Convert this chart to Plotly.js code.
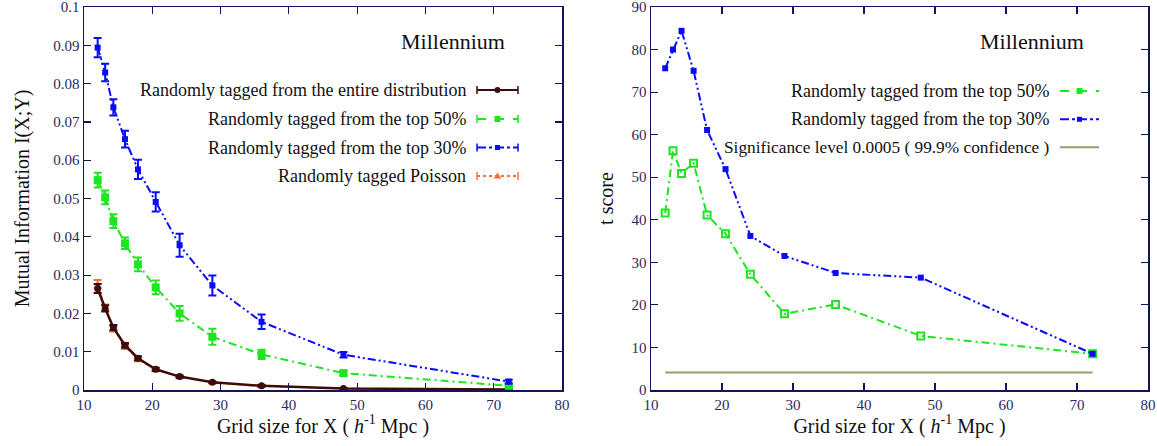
<!DOCTYPE html>
<html>
<head>
<meta charset="utf-8">
<script src="https://cdn.plot.ly/plotly-3.0.1.min.js"></script>
<style>html,body{margin:0;padding:0;background:#fff;}#chart{width:1157px;height:446px;}</style>
</head>
<body>
<div id="chart"></div>
<script>
// ---- data ----
const gridSize = [12, 13.1, 14.3, 16, 17.9, 20.5, 24, 28.8, 36, 48, 72.2];

const miEntire    = [0.0265, 0.0213, 0.0163, 0.0117, 0.0083, 0.0054, 0.0035, 0.0020, 0.0011, 0.0004, 0.0001];
const miEntireErr = [0.0012, 0.0008, 0.0007, 0.0006, 0.0005, 0.0004, 0.0003, 0.0002, 0.0002, 0.0001, 0.0001];
const miTop50     = [0.0548, 0.0503, 0.0441, 0.0383, 0.0328, 0.0268, 0.0200, 0.0139, 0.0093, 0.0044, 0.0011];
const miTop50Err  = [0.0019, 0.0018, 0.0018, 0.0015, 0.0018, 0.0018, 0.0019, 0.0021, 0.0012, 0.0006, 0.0003];
const miTop30     = [0.0894, 0.0829, 0.0738, 0.0655, 0.0576, 0.0491, 0.0378, 0.0273, 0.0178, 0.0092, 0.0022];
const miTop30Err  = [0.0025, 0.0023, 0.0021, 0.0022, 0.0025, 0.0025, 0.0030, 0.0026, 0.0019, 0.0007, 0.0005];
const miPoisson    = [0.0277, 0.0215, 0.0160, 0.0113, 0.0080, 0.0053, 0.0034, 0.0019, 0.0010, 0.0004, 0.0001];
const miPoissonErr = [0.0010, 0.0008, 0.0007, 0.0006, 0.0005, 0.0004, 0.0003, 0.0002, 0.0002, 0.0001, 0.0001];

const tTop50 = [41.6, 56.2, 50.9, 53.3, 41.1, 36.7, 27.2, 17.9, 20.1, 12.7, 8.5];
const tTop30 = [75.6, 80.0, 84.4, 75.0, 61.1, 51.9, 36.2, 31.5, 27.5, 26.4, 8.5];
const sigX = [12, 72.2];
const sigLevel = [4.1, 4.1];

const legendLeft = [
  "Randomly tagged from the entire distribution",
  "Randomly tagged from the top 50%",
  "Randomly tagged from the top 30%",
  "Randomly tagged Poisson"
];
const legendRight = [
  "Randomly tagged from the top 50%",
  "Randomly tagged from the top 30%",
  "Significance level 0.0005 ( 99.9% confidence )"
];
const panelLabel = "Millennium";
const xTitle = "Grid size for X ( <i>h</i><sup>-1</sup> Mpc )";
const yTitleLeft = "Mutual Information I(X;Y)";
const yTitleRight = "t score";

// ---- styles ----
const FONT = "Liberation Serif, Times New Roman, serif";
const cBrown = "#3d0b0b", cGreen = "#1ee61e", cBlue = "#0a0aff", cOrange = "#ff7030", cOlive = "#a09c68";
const cAxis = "#14145a", cTick = "#2a2a5a";
const dashBlue = "8px,3px,2px,3px,2px,3px";
const dashGreen = "8px,4px,2px,4px";

function err(arr, color){ return {type:'data', array:arr, visible:true, color:color, thickness:2, width:4}; }

const traces = [
  {x:gridSize, y:miPoisson, xaxis:'x', yaxis:'y', mode:'lines+markers',
   line:{color:cOrange, width:1.5, dash:'dot'}, marker:{symbol:'triangle-up', size:6, color:cOrange},
   error_y:err(miPoissonErr, cOrange)},
  {x:gridSize, y:miEntire, xaxis:'x', yaxis:'y', mode:'lines+markers',
   line:{color:cBrown, width:2.5}, marker:{symbol:'circle', size:7, color:cBrown},
   error_y:err(miEntireErr, cBrown)},
  {x:gridSize, y:miTop50, xaxis:'x', yaxis:'y', mode:'lines+markers',
   line:{color:cGreen, width:2, dash:dashGreen}, marker:{symbol:'square', size:8, color:cGreen},
   error_y:err(miTop50Err, cGreen)},
  {x:gridSize, y:miTop30, xaxis:'x', yaxis:'y', mode:'lines+markers',
   line:{color:cBlue, width:2, dash:dashBlue}, marker:{symbol:'square', size:6, color:cBlue},
   error_y:err(miTop30Err, cBlue)},
  {x:gridSize, y:tTop50, xaxis:'x2', yaxis:'y2', mode:'lines+markers',
   line:{color:cGreen, width:2, dash:dashGreen}, marker:{symbol:'square-open', size:7, color:cGreen, line:{width:2, color:cGreen}}},
  {x:gridSize, y:tTop30, xaxis:'x2', yaxis:'y2', mode:'lines+markers',
   line:{color:cBlue, width:2, dash:dashBlue}, marker:{symbol:'square', size:6, color:cBlue}},
  {x:sigX, y:sigLevel, xaxis:'x2', yaxis:'y2', mode:'lines',
   line:{color:cOlive, width:2}}
];

const W = 1157, H = 446, T = 7, B = 56;
const px = v => v / W;
const py = v => (H - B - v) / (H - T - B);

function axisCommon(){
  return {showline:true, mirror:'ticks', linecolor:cAxis, linewidth:1.5, ticks:'inside', ticklen:7,
          tickcolor:cAxis, tickwidth:1.2, showgrid:false, zeroline:false, ticklabeloverflow:'allow',
          tickfont:{family:FONT, size:15, color:cTick}};
}
const titleFont = {family:FONT, size:20, color:'#111'};

const xa = Object.assign(axisCommon(), {domain:[px(84), px(562)], range:[10,80], dtick:10, tick0:10, anchor:'y',
  title:{text:xTitle, font:titleFont, standoff:6}});
const ya = Object.assign(axisCommon(), {domain:[0,1], range:[0,0.1], dtick:0.01, anchor:'x',
  title:{text:yTitleLeft, font:titleFont, standoff:18}});
const xa2 = Object.assign(axisCommon(), {domain:[px(651), px(1148)], range:[10,80], dtick:10, tick0:10, anchor:'y2',
  title:{text:xTitle, font:titleFont, standoff:6}});
const ya2 = Object.assign(axisCommon(), {domain:[0,1], range:[0,90], dtick:10, anchor:'x2',
  title:{text:yTitleRight, font:titleFont, standoff:12}});

const annotations = [];
const shapes = [];

function addLegendRow(text, textRight, sx0, sx1, yPix, color, dash, marker, caps, fsize){
  annotations.push({xref:'paper', yref:'paper', x:px(textRight), y:py(yPix), xanchor:'right', yanchor:'middle',
    text:text, showarrow:false, font:{family:FONT, size:fsize, color:'#111'}});
  shapes.push({type:'line', xref:'paper', yref:'paper', x0:px(sx0), x1:px(sx1), y0:py(yPix), y1:py(yPix),
    line:{color:color, width:2, dash:dash}});
  if (caps){
    [sx0, sx1].forEach(sx => shapes.push({type:'line', xref:'paper', yref:'paper', x0:px(sx), x1:px(sx),
      y0:py(yPix-4), y1:py(yPix+4), line:{color:color, width:1.5}}));
  }
  const mx = (sx0+sx1)/2;
  if (marker === 'circle'){
    shapes.push({type:'circle', xref:'paper', yref:'paper', x0:px(mx-3), x1:px(mx+3), y0:py(yPix+3), y1:py(yPix-3),
      fillcolor:color, line:{color:color, width:0}});
  } else if (marker === 'square'){
    shapes.push({type:'rect', xref:'paper', yref:'paper', x0:px(mx-3), x1:px(mx+3), y0:py(yPix+3), y1:py(yPix-3),
      fillcolor:color, line:{color:color, width:0}});
  } else if (marker === 'smallsquare'){
    shapes.push({type:'rect', xref:'paper', yref:'paper', x0:px(mx-2.5), x1:px(mx+2.5), y0:py(yPix+2.5), y1:py(yPix-2.5),
      fillcolor:color, line:{color:color, width:0}});
  } else if (marker === 'triangle'){
    shapes.push({type:'path', xref:'paper', yref:'paper',
      path:'M '+px(mx-4)+' '+py(yPix+2.5)+' L '+px(mx+4)+' '+py(yPix+2.5)+' L '+px(mx)+' '+py(yPix-3.5)+' Z',
      fillcolor:color, line:{color:color, width:0}});
  }
}

// left legend
const lRows = [90, 119, 147.5, 176];
addLegendRow(legendLeft[0], 468, 477, 518, lRows[0], cBrown, 'solid', 'circle', true, 18);
addLegendRow(legendLeft[1], 468, 477, 518, lRows[1], cGreen, 'dash', 'square', true, 18);
addLegendRow(legendLeft[2], 468, 477, 518, lRows[2], cBlue, 'dashdot', 'smallsquare', true, 18);
addLegendRow(legendLeft[3], 468, 477, 518, lRows[3], cOrange, 'dot', 'triangle', true, 18);

// right legend
const rRows = [91, 119.3, 147.3];
addLegendRow(legendRight[0], 1051, 1060, 1099, rRows[0], cGreen, 'dash', 'square', false, 18);
addLegendRow(legendRight[1], 1051, 1060, 1099, rRows[1], cBlue, 'dashdot', 'smallsquare', false, 18);
addLegendRow(legendRight[2], 1051, 1060, 1099, rRows[2], cOlive, 'solid', null, false, 17.3);

annotations.push({xref:'paper', yref:'paper', x:px(453), y:py(41), xanchor:'center', yanchor:'middle',
  text:panelLabel, showarrow:false, font:{family:FONT, size:22, color:'#111'}});
annotations.push({xref:'paper', yref:'paper', x:px(1032), y:py(41), xanchor:'center', yanchor:'middle',
  text:panelLabel, showarrow:false, font:{family:FONT, size:22, color:'#111'}});

const layout = {
  width:W, height:H, margin:{l:0, r:0, t:T, b:B, pad:0},
  paper_bgcolor:'#fff', plot_bgcolor:'#fff', showlegend:false,
  font:{family:FONT},
  xaxis:xa, yaxis:ya, xaxis2:xa2, yaxis2:ya2,
  annotations:annotations, shapes:shapes
};

Plotly.newPlot('chart', traces, layout, {displayModeBar:false, staticPlot:true});
</script>
</body>
</html>
